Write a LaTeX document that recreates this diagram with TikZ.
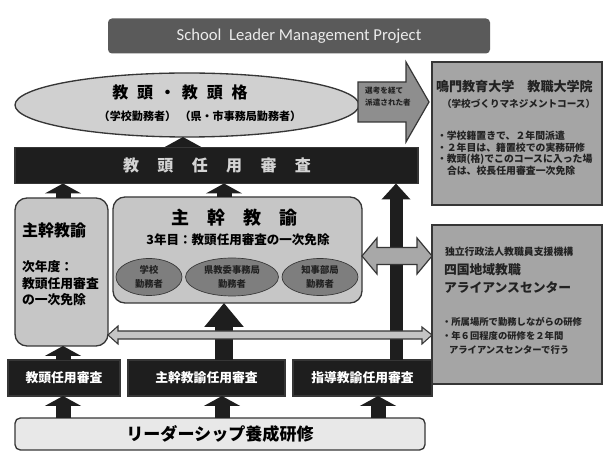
\documentclass[tikz,border=0pt]{standalone}
\usepackage{fontspec}
\setmainfont{Noto Sans CJK JP}
\newfontfamily\latinf{Carlito}
\usetikzlibrary{arrows.meta,shapes.geometric,calc}
\definecolor{ol}{HTML}{363636}
\definecolor{titlefill}{HTML}{5A5A5A}
\definecolor{ellfill}{HTML}{D0D0D0}
\definecolor{bigarrfill}{HTML}{8E8E8E}
\definecolor{rboxfill}{HTML}{A5A5A5}
\definecolor{darkfill}{HTML}{1E1E1E}
\definecolor{midfill}{HTML}{C6C6C6}
\definecolor{innerfill}{HTML}{7E7E7E}
\definecolor{grayarr}{HTML}{A8A8A8}
\definecolor{thinarr}{HTML}{C4C4C4}
\definecolor{basefill}{HTML}{E8E8E8}
\definecolor{darktxt}{HTML}{222222}
\definecolor{bartxt}{HTML}{D4D4D4}
\newcommand\fsz[2]{\fontsize{#1}{#2}\selectfont}
\begin{document}
\begin{tikzpicture}[x=0.75pt,y=-0.75pt,
  sz/.style 2 args={minimum width=#1*0.75pt,minimum height=#2*0.75pt,inner sep=0pt,outer sep=0pt},
  outl/.style={draw=ol,line width=1pt},
  darkbox/.style={fill=darkfill,draw=ol,line width=0.8pt,text=white},
  txt/.style={inner sep=0pt,outer sep=0pt,font=\bfseries},
  inell/.style={ellipse,fill=innerfill,draw=ol,line width=0.5pt,align=center,text=darktxt,font=\bfseries\fsz{7}{11}},
  arrS/.style={draw=darkfill,line width=11.25pt,-{Triangle[width=27pt,length=7.5pt]}},
  arrT/.style={draw=darkfill,line width=9.75pt,-{Triangle[width=21pt,length=12pt]}},
  arrB/.style={draw=darkfill,line width=13.5pt,-{Triangle[width=28.5pt,length=18pt]}},
]
\useasboundingbox (0,0) rectangle (604,452);
\fill[white] (0,0) rectangle (604,452);

% title
\node[sz={382}{35},fill=titlefill,rounded corners=3pt,text=white!92!black] (title) at (299,36)
  {\latinf\fsz{12.5}{14}School\ \ Leader Management Project};

% ellipse
\node[ellipse,sz={344}{64},fill=ellfill,outl] (ell) at (187,105) {};
\node[txt] (ellA) at (180,92) {\fsz{12}{14}教\hspace{0.55em}頭\hspace{0.4em}・\hspace{0.4em}教\hspace{0.55em}頭\hspace{0.55em}格};
\node[txt] (ellB) at (200,116) {\fsz{8.3}{10}（学校勤務者）\hspace{0.3em}（県・市事務局勤務者）};

% big arrow right
\draw[fill=bigarrfill,draw=ol,line width=0.9pt] (358,82) -- (406,82) -- (406,62) -- (429,102) -- (406,142) -- (406,122) -- (358,122) -- cycle;
\node[inner sep=0pt,text=darktxt,align=left,font=\bfseries\fsz{5.7}{9}] (arrtxt) at (388,97) {選考を経て\\派遣された者};

% right top box
\node[sz={170}{143},fill=rboxfill,outl,line width=1.3pt] (rtop) at (517,133.5) {};
\node[txt,anchor=west,text=darktxt] (rt1) at (436,87) {\fsz{9.8}{11}鳴門教育大学\hspace{1em}教職大学院};
\node[txt,anchor=west,text=darktxt] (rt2) at (442,104) {\fsz{7.2}{9}（学校づくりマネジメントコース）};
\node[txt,anchor=west,text=darktxt] (rt3) at (437,136) {\fsz{7.4}{9}・学校籍置きで、２年間派遣};
\node[txt,anchor=west,text=darktxt] (rt4) at (437,147.5) {\fsz{7.4}{9}・２年目は、籍置校での実務研修};
\node[txt,anchor=west,text=darktxt] (rt5) at (437,159) {\fsz{7.4}{9}・教頭(格)でこのコースに入った場};
\node[txt,anchor=west,text=darktxt] (rt6) at (447,170.5) {\fsz{7.4}{9}合は、校長任用審査一次免除};

% dark bar
\node[sz={403}{36},darkbox] (bar) at (216.5,165.5) {};
\node[txt,text=bartxt] (bartx) at (217,165.5) {\fsz{12}{14}教\hspace{1.15em}頭\hspace{1.15em}任\hspace{1.15em}用\hspace{1.15em}審\hspace{1.15em}査};

% left box
\node[sz={93}{148},fill=midfill,outl,rounded corners=9pt] (lbox) at (61.5,272) {};
\node[txt,anchor=west] (lb1) at (22,230) {\fsz{12}{14}主幹教諭};
\node[txt,anchor=west] (lb2) at (22,267) {\fsz{9.6}{11}次年度：};
\node[txt,anchor=west] (lb3) at (22,283.5) {\fsz{9.6}{11}教頭任用審査};
\node[txt,anchor=west] (lb4) at (22,300) {\fsz{9.6}{11}の一次免除};

% main box
\node[sz={249}{106},fill=midfill,outl,rounded corners=9pt] (mbox) at (237.5,250) {};
\node[txt] (mb1) at (234,218) {\fsz{13.5}{15}主\hspace{1em}幹\hspace{1em}教\hspace{1em}諭};
\node[txt] (mb2) at (238,240) {\fsz{9.4}{11}3年目：教頭任用審査の一次免除};
\node[inell,sz={66}{37}] (e1) at (149,277) {学校\\勤務者};
\node[inell,sz={93}{38}] (e2) at (232,277) {県教委事務局\\勤務者};
\node[inell,sz={76}{37}] (e3) at (320,277) {知事部局\\勤務者};

% right bottom box
\node[sz={170}{159},fill=rboxfill,outl,line width=1.3pt] (rbot) at (517,304.5) {};
\node[txt,anchor=west,text=darktxt] (rb1) at (445,252) {\fsz{7.4}{9}独立行政法人教職員支援機構};
\node[txt,anchor=west,text=darktxt] (rb2) at (444,270) {\fsz{9.6}{11}四国地域教職};
\node[txt,anchor=west,text=darktxt] (rb3) at (444,288) {\fsz{9.6}{11}アライアンスセンター};
\node[txt,anchor=west,text=darktxt] (rb4) at (442,322) {\fsz{7}{9}・所属場所で勤務しながらの研修};
\node[txt,anchor=west,text=darktxt] (rb5) at (442,336) {\fsz{7}{9}・年６回程度の研修を２年間};
\node[txt,anchor=west,text=darktxt] (rb6) at (449,350) {\fsz{7}{9}アライアンスセンターで行う};

% bottom boxes
\node[sz={112}{36},darkbox] (bA) at (64,378) {\bfseries\fsz{9.6}{11}教頭任用審査};
\node[sz={157}{36},darkbox] (bB) at (206.5,378) {\bfseries\fsz{9.6}{11}主幹教諭任用審査};
\node[sz={139}{36},darkbox] (bC) at (362.5,378) {\bfseries\fsz{9.6}{11}指導教諭任用審査};

% base bar
\node[sz={410}{32},fill=basefill,outl,rounded corners=4pt] (base) at (220,434) {\bfseries\fsz{12.8}{14}リーダーシップ養成研修};

% x guides
\coordinate (x1) at (63,0);
\coordinate (x2) at (224,0);
\coordinate (x3) at (396,0);
\coordinate (x4) at (183,0);
\coordinate (xb2) at (222,0);
\coordinate (xb3) at (378,0);

% black arrows
\draw[arrS] (bar.north -| x4) -- (ell.south -| x4);
\draw[arrS] (lbox.north -| x1) -- (bar.south -| x1);
\draw[arrS] (mbox.north -| x2) -- (bar.south -| x2);
\draw[arrT] (bC.north -| x3) -- (bar.south -| x3);
\draw[arrB] (bB.north -| x2) -- (mbox.south -| x2);
\draw[arrS] (bA.north -| x1) -- (lbox.south -| x1);
\draw[arrS] (base.north -| x1) -- (bA.south -| x1);
\draw[arrS] (base.north -| xb2) -- (bB.south -| xb2);
\draw[arrS] (base.north -| xb3) -- (bC.south -| xb3);

% gray double arrow between main box and right bottom box
\draw[fill=grayarr,draw=ol,line width=0.9pt]
  (mbox.east |- 0,256) -- ++(15,-18) -- ++(0,9.5) -- ($(rbot.west |- 0,247.5)+(-15,0)$) -- ++(0,-9.5) -- (rbot.west |- 0,256)
  -- ++(-15,18) -- ++(0,-9.5) -- ($(mbox.east |- 0,264.5)+(15,0)$) -- ++(0,9.5) -- cycle;

% thin long double arrow
\draw[fill=thinarr,draw=ol,line width=0.8pt]
  (lbox.east |- 0,335) -- ++(10,-9) -- ++(0,5) -- ($(rbot.west |- 0,331)+(-10,0)$) -- ++(0,-4) -- (rbot.west |- 0,335)
  -- ++(-10,9) -- ++(0,-5) -- ($(lbox.east |- 0,339)+(10,0)$) -- ++(0,5) -- cycle;
\end{tikzpicture}
\end{document}
